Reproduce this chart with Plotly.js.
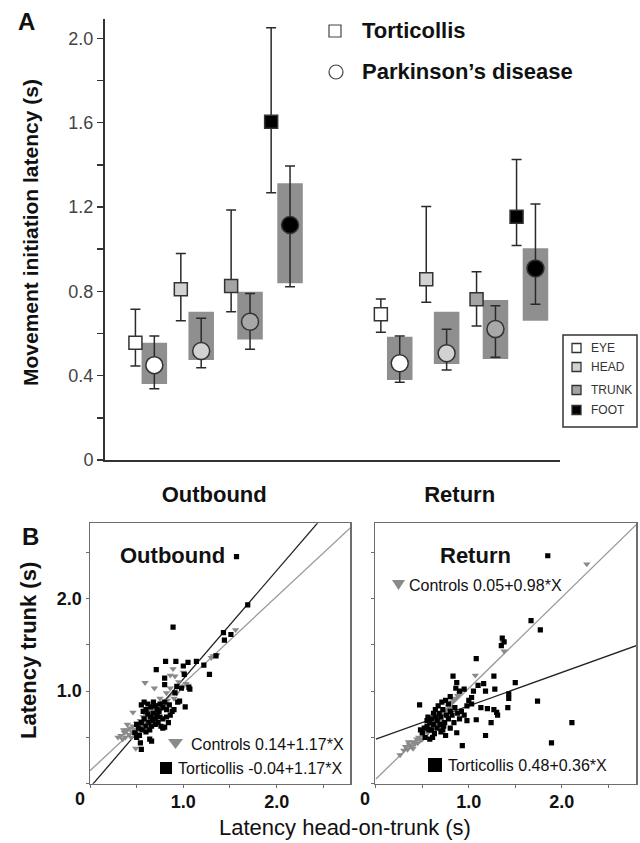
<!DOCTYPE html>
<html>
<head>
<meta charset="utf-8">
<script src="https://cdn.plot.ly/plotly-3.0.1.min.js"></script>
<style>html,body{margin:0;padding:0;background:#fff;}#chart{width:640px;height:843px;}</style>
</head>
<body>
<div id="chart"></div>
<script>
// ---------- Panel A data ----------
const measures = ['EYE', 'HEAD', 'TRUNK', 'FOOT'];
const phases = ['Outbound', 'Return'];
const measureColors = ['#ffffff', '#d2d2d2', '#a4a4a4', '#000000'];

// Torticollis (squares): [Outbound, Return] per measure
const tortMean  = [[0.556, 0.691], [0.81, 0.857], [0.825, 0.762], [1.605, 1.154]];
const tortUpper = [[0.715, 0.764], [0.98, 1.202], [1.186, 0.893], [2.05, 1.426]];
const tortLower = [[0.446, 0.606], [0.66, 0.748], [0.703, 0.636], [1.268, 1.017]];
// Parkinson's disease (circles)
const pdMean  = [[0.45, 0.459], [0.517, 0.506], [0.656, 0.621], [1.115, 0.909]];
const pdUpper = [[0.588, 0.588], [0.672, 0.62], [0.79, 0.732], [1.395, 1.214]];
const pdLower = [[0.338, 0.369], [0.438, 0.427], [0.525, 0.487], [0.822, 0.739]];
// Parkinson's grey range boxes
const pdBoxHigh = [[0.556, 0.585], [0.703, 0.703], [0.798, 0.759], [1.313, 1.004]];
const pdBoxLow  = [[0.36, 0.38], [0.474, 0.455], [0.572, 0.479], [0.838, 0.661]];

const yTicksA = [0, 0.2, 0.4, 0.6, 0.8, 1.0, 1.2, 1.4, 1.6, 1.8, 2.0];
const yTickTextA = ['0', '', '0.4', '', '0.8', '', '1.2', '', '1.6', '', '2.0'];

// ---------- Panel B data ----------
const outTortX = [1.57,1.69,0.89,1.43,1.44,1.51,1.35,1.28,1.22,1.14,1.05,0.92,0.81,0.71,1.00,1.01,1.07,1.02,0.96,0.80,0.80,0.93,0.98,1.06,0.91,0.94,0.80,0.54,0.55,0.64,0.66,0.50,0.55,0.58,0.60,0.62,0.65,0.68,0.70,0.72,0.75,0.78,0.80,0.82,0.85,0.88,0.90,0.62,0.65,0.68,0.70,0.72,0.75,0.78,0.74,0.58,0.55,0.60,0.63,0.66,0.70,0.52,0.56,0.60,0.64,0.48,0.53,0.67,0.73,0.76,0.82,0.86,0.57,0.50,0.84,0.78];
const outTortY = [2.45,1.93,1.69,1.63,1.55,1.61,1.38,1.18,1.28,1.32,1.31,1.32,1.32,1.23,1.27,1.18,1.02,0.83,0.89,1.14,1.07,1.05,1.03,1.04,0.98,0.88,0.61,0.44,0.37,0.48,0.46,0.50,0.85,0.88,0.80,0.86,0.83,0.88,0.84,0.80,0.86,0.82,0.88,0.80,0.85,0.78,0.80,0.75,0.72,0.76,0.70,0.74,0.72,0.70,0.78,0.70,0.66,0.62,0.66,0.62,0.64,0.60,0.58,0.56,0.58,0.55,0.52,0.68,0.66,0.62,0.72,0.74,0.78,0.64,0.66,0.60];
const outCtrlX = [1.56,1.32,1.36,1.30,1.00,0.91,0.86,0.59,0.69,0.82,0.86,1.00,1.05,1.03,0.95,0.89,0.46,0.49,0.30,0.33,0.35,0.37,0.38,0.40,0.42,0.43,0.45,0.46,0.48,0.50,0.52,0.54,0.55,0.57,0.58,0.60,0.62,0.63,0.65,0.67,0.68,0.70,0.72,0.74,0.76,0.78,0.80,0.83,0.40,0.44,0.36,0.53,0.61,0.66,0.75,0.90,0.93];
const outCtrlY = [1.66,1.38,1.39,1.36,1.20,1.16,1.17,1.09,1.03,0.98,1.03,1.05,1.06,1.08,1.10,1.24,0.77,0.38,0.50,0.52,0.48,0.55,0.50,0.58,0.53,0.60,0.56,0.62,0.58,0.65,0.62,0.68,0.64,0.72,0.67,0.74,0.70,0.78,0.75,0.80,0.73,0.82,0.78,0.85,0.80,0.88,0.84,0.90,0.64,0.50,0.58,0.57,0.80,0.69,0.92,0.92,0.98];
const retTortX = [1.85,1.67,1.77,1.36,1.35,1.38,1.08,0.83,0.87,1.27,1.50,1.28,1.43,1.43,1.74,2.11,1.89,0.93,1.18,1.42,1.08,1.27,1.30,1.31,1.24,1.20,1.13,1.00,0.98,1.03,0.90,0.95,0.86,1.10,1.16,1.18,1.05,0.47,0.87,0.80,0.72,0.75,1.03,0.50,0.52,0.55,0.57,0.58,0.60,0.62,0.64,0.66,0.68,0.70,0.72,0.74,0.76,0.78,0.80,0.82,0.85,0.88,0.90,0.92,0.55,0.60,0.63,0.66,0.69,0.53,0.58,0.62,0.67,0.71,0.75,0.78,0.56,0.64,0.73,0.84,0.95,0.98,0.48,0.61,0.70,0.80];
const retTortY = [2.46,1.76,1.66,1.57,1.49,1.53,1.35,1.16,1.09,1.16,1.09,1.02,0.97,0.92,0.89,0.66,0.44,0.41,0.52,0.82,0.69,0.80,0.77,0.74,0.66,0.81,0.82,0.90,0.84,0.86,1.00,1.02,1.03,1.06,1.08,1.00,1.00,0.85,0.55,0.60,0.58,0.52,0.93,0.55,0.60,0.62,0.58,0.66,0.70,0.64,0.72,0.68,0.76,0.72,0.80,0.66,0.74,0.70,0.78,0.74,0.82,0.76,0.70,0.78,0.68,0.58,0.54,0.60,0.64,0.50,0.48,0.76,0.84,0.88,0.90,0.86,0.72,0.80,0.62,0.66,0.74,0.68,0.58,0.50,0.56,0.94];
const retCtrlX = [2.27,1.37,1.38,1.07,0.26,0.30,0.32,0.34,0.36,0.38,0.40,0.42,0.44,0.46,0.48,0.50,0.52,0.54,0.56,0.58,0.60,0.62,0.64,0.66,0.68,0.70,0.72,0.74,0.76,0.78,0.80,0.82,0.84,0.86,0.88,0.90,0.35,0.45,0.55,0.65,0.75,0.70,0.60,0.50,0.40];
const retCtrlY = [2.37,1.52,1.43,1.17,0.31,0.36,0.40,0.37,0.42,0.40,0.45,0.43,0.48,0.50,0.47,0.53,0.56,0.58,0.55,0.62,0.64,0.60,0.68,0.70,0.66,0.74,0.76,0.78,0.80,0.83,0.82,0.88,0.90,0.92,0.95,0.97,0.45,0.44,0.60,0.64,0.74,0.68,0.58,0.48,0.38];

// regression lines as drawn: [intercept, slope]
const outTortFit = [-0.04, 1.17];
const outCtrlFit = [0.14, 0.94];
const retTortFit = [0.48, 0.36];
const retCtrlFit = [0.05, 0.98];

const outCtrlLabel = 'Controls 0.14+1.17*X';
const outTortLabel = 'Torticollis -0.04+1.17*X';
const retCtrlLabel = 'Controls 0.05+0.98*X';
const retTortLabel = 'Torticollis 0.48+0.36*X';

// ---------- layout helpers ----------
const W = 640, H = 843;
const px = x => x / W;
const py = y => 1 - y / H;
const FONT = 'Liberation Sans, Arial, sans-serif';

// position offsets of each measure within a phase group
const tortOffset = [-0.321, -0.136, 0.069, 0.232];
const pdOffset = [-0.244, -0.053, 0.146, 0.309];
const boxWidth = 0.104;

const traces = [];

// grey boxes (Parkinson's range)
{
  const bx = [], bbase = [], bh = [];
  measures.forEach((m, i) => phases.forEach((p, j) => {
    bx.push(j + pdOffset[i]);
    bbase.push(pdBoxLow[i][j]);
    bh.push(pdBoxHigh[i][j] - pdBoxLow[i][j]);
  }));
  traces.push({type: 'bar', x: bx, y: bh, base: bbase, width: boxWidth,
    marker: {color: '#8f8f8f', line: {width: 0}}, xaxis: 'x', yaxis: 'y', hoverinfo: 'skip'});
}

measures.forEach((m, i) => {
  const xs = phases.map((p, j) => j + tortOffset[i]);
  traces.push({type: 'scatter', mode: 'markers', x: xs, y: tortMean[i],
    error_y: {type: 'data', symmetric: false,
      array: tortUpper[i].map((u, j) => u - tortMean[i][j]),
      arrayminus: tortMean[i].map((v, j) => v - tortLower[i][j]),
      color: '#2a2a2a', thickness: 1.5, width: 5},
    marker: {symbol: 'square', size: 13, color: measureColors[i], line: {color: '#333', width: 1.5}},
    xaxis: 'x', yaxis: 'y', name: m});
  const xp = phases.map((p, j) => j + pdOffset[i]);
  traces.push({type: 'scatter', mode: 'markers', x: xp, y: pdMean[i],
    error_y: {type: 'data', symmetric: false,
      array: pdUpper[i].map((u, j) => u - pdMean[i][j]),
      arrayminus: pdMean[i].map((v, j) => v - pdLower[i][j]),
      color: '#2a2a2a', thickness: 1.5, width: 5},
    marker: {symbol: 'circle', size: 17, color: measureColors[i] === '#a4a4a4' ? '#a8a8a8' : measureColors[i], line: {color: '#333', width: 1.5}},
    xaxis: 'x', yaxis: 'y', name: m});
});

// Panel B scatter + lines
function fitLine(fit, xmax) {
  const xs = [0, xmax];
  return {x: xs, y: xs.map(x => fit[0] + fit[1] * x)};
}
const Bsets = [
  {ax: 'x2', ay: 'y2', tx: outTortX, ty: outTortY, cx: outCtrlX, cy: outCtrlY, tf: outTortFit, cf: outCtrlFit},
  {ax: 'x3', ay: 'y3', tx: retTortX, ty: retTortY, cx: retCtrlX, cy: retCtrlY, tf: retTortFit, cf: retCtrlFit}
];
Bsets.forEach(s => {
  const lc = fitLine(s.cf, 3);
  traces.push({type: 'scatter', mode: 'lines', x: lc.x, y: lc.y, line: {color: '#9a9a9a', width: 1.3}, xaxis: s.ax, yaxis: s.ay, hoverinfo: 'skip'});
  const lt = fitLine(s.tf, 3);
  traces.push({type: 'scatter', mode: 'lines', x: lt.x, y: lt.y, line: {color: '#222', width: 1.3}, xaxis: s.ax, yaxis: s.ay, hoverinfo: 'skip'});
  traces.push({type: 'scatter', mode: 'markers', x: s.cx, y: s.cy, cliponaxis: true,
    marker: {symbol: 'triangle-down', size: 6.5, color: '#8a8a8a', line: {width: 0}}, xaxis: s.ax, yaxis: s.ay});
  traces.push({type: 'scatter', mode: 'markers', x: s.tx, y: s.ty, cliponaxis: true,
    marker: {symbol: 'square', size: 5.2, color: '#000', line: {width: 0}}, xaxis: s.ax, yaxis: s.ay});
});

const bAxisCommon = {showline: true, mirror: true, linecolor: '#6e6e6e', linewidth: 1.5,
  showgrid: false, zeroline: false, ticks: 'outside', ticklen: 3, tickwidth: 1, tickcolor: '#6e6e6e',
  tickvals: [0, 0.5, 1, 1.5, 2, 2.5], tickfont: {family: FONT, size: 18, weight: 'bold', color: '#111'}};

const annotations = [
  {text: 'A', x: px(26), y: py(21), font: {size: 24, weight: 'bold'}},
  {text: 'B', x: px(30), y: py(536), font: {size: 24, weight: 'bold'}},
  {text: 'Movement initiation latency (s)', x: px(30), y: py(233), textangle: -90, font: {size: 21, weight: 'bold'}},
  {text: 'Torticollis', x: px(360), y: py(31), xanchor: 'left', font: {size: 22, weight: 'bold'}},
  {text: 'Parkinson\u2019s disease', x: px(360), y: py(72), xanchor: 'left', font: {size: 22, weight: 'bold'}},
  {text: 'Outbound', x: px(172), y: py(555), font: {size: 22, weight: 'bold'}},
  {text: 'Return', x: px(475), y: py(555), font: {size: 22, weight: 'bold'}},
  {text: 'Latency trunk (s)', x: px(28), y: py(651), textangle: -90, font: {size: 22, weight: 'bold'}},
  {text: 'Latency head-on-trunk (s)', x: px(345), y: py(827), font: {size: 22}},
  {text: '0', x: px(80), y: py(799), font: {size: 18, weight: 'bold'}},
  {text: '0', x: px(365), y: py(799), font: {size: 18, weight: 'bold'}},
  {text: outCtrlLabel, x: px(189), y: py(744), xanchor: 'left', font: {size: 16}},
  {text: outTortLabel, x: px(176), y: py(768), xanchor: 'left', font: {size: 16}},
  {text: retCtrlLabel, x: px(407), y: py(585), xanchor: 'left', font: {size: 16}},
  {text: retTortLabel, x: px(446), y: py(765), xanchor: 'left', font: {size: 16}}
];
// right-hand measure legend labels
const legY = [348, 367, 390, 410];
measures.forEach((m, i) => {
  annotations.push({text: m, x: px(589), y: py(legY[i]), xanchor: 'left', font: {size: 12, color: '#333'}});
});
annotations.forEach(a => {
  a.xref = 'paper'; a.yref = 'paper'; a.showarrow = false;
  if (!a.xanchor) a.xanchor = 'center';
  a.yanchor = 'middle';
  a.font = Object.assign({family: FONT, color: '#111'}, a.font);
});

function triPath(xl, xr, yt, yb) {
  const xm = (xl + xr) / 2;
  return 'M' + px(xl) + ',' + py(yt) + ' L' + px(xr) + ',' + py(yt) + ' L' + px(xm) + ',' + py(yb) + ' Z';
}
const shapes = [
  {type: 'rect', x0: px(329), x1: px(341), y0: py(37), y1: py(25), line: {color: '#444', width: 1.2}, fillcolor: '#fff'},
  {type: 'circle', x0: px(329), x1: px(343), y0: py(79), y1: py(65), line: {color: '#444', width: 1.2}, fillcolor: '#fff'},
  {type: 'rect', x0: px(563), x1: px(637), y0: py(427), y1: py(335), line: {color: '#333', width: 1.5}, fillcolor: 'rgba(0,0,0,0)'},
  // keys of the regression labels
  {type: 'path', path: triPath(168, 183, 739, 749), fillcolor: '#8a8a8a', line: {width: 0}},
  {type: 'rect', x0: px(160), x1: px(172), y0: py(774), y1: py(762), fillcolor: '#000', line: {width: 0}},
  {type: 'path', path: triPath(392, 405, 580, 590), fillcolor: '#8a8a8a', line: {width: 0}},
  {type: 'rect', x0: px(428), x1: px(442), y0: py(772), y1: py(758), fillcolor: '#000', line: {width: 0}}
];
measures.forEach((m, i) => {
  shapes.push({type: 'rect', x0: px(572), x1: px(581), y0: py(legY[i] + 4.5), y1: py(legY[i] - 4.5),
    line: {color: '#333', width: 1.3}, fillcolor: measureColors[i]});
});
shapes.forEach(s => { s.xref = 'paper'; s.yref = 'paper'; });

const layout = {
  width: W, height: H, margin: {l: 0, r: 0, t: 0, b: 0},
  paper_bgcolor: '#fff', plot_bgcolor: 'rgba(0,0,0,0)', showlegend: false,
  font: {family: FONT, color: '#111'},
  xaxis: {domain: [px(105), px(560)], range: [-0.445, 1.409], anchor: 'y', showline: true, linecolor: '#333', linewidth: 2,
    zeroline: false, showgrid: false, tickvals: [0, 1], ticktext: phases, ticks: '', ticklabelstandoff: 14,
    tickfont: {family: FONT, size: 22, weight: 'bold', color: '#111'}},
  yaxis: {domain: [py(460), py(19)], range: [0, 2.092], anchor: 'x', showline: true, linecolor: '#333', linewidth: 2,
    zeroline: false, showgrid: false, ticks: 'outside', ticklen: 6, tickwidth: 1.5, tickcolor: '#333',
    tickvals: yTicksA, ticktext: yTickTextA, tickfont: {family: FONT, size: 18, color: '#444'}},
  xaxis2: Object.assign({}, bAxisCommon, {domain: [px(90), px(350)], range: [0, 2.786], anchor: 'y2',
    ticktext: ['', '', '1.0', '', '2.0', ''], ticklabelstandoff: -2}),
  yaxis2: Object.assign({}, bAxisCommon, {domain: [py(783.7), py(523.3)], range: [0, 2.81], anchor: 'x2',
    ticktext: ['', '', '1.0', '', '2.0', '']}),
  xaxis3: Object.assign({}, bAxisCommon, {domain: [px(375), px(636)], range: [-0.01, 2.8], anchor: 'y3',
    ticktext: ['', '', '1.0', '', '2.0', ''], ticklabelstandoff: -2}),
  yaxis3: Object.assign({}, bAxisCommon, {domain: [py(783.7), py(523.3)], range: [0, 2.81], anchor: 'x3',
    showticklabels: false}),
  annotations: annotations,
  shapes: shapes
};

Plotly.newPlot('chart', traces, layout, {staticPlot: true, displayModeBar: false});
</script>
</body>
</html>
